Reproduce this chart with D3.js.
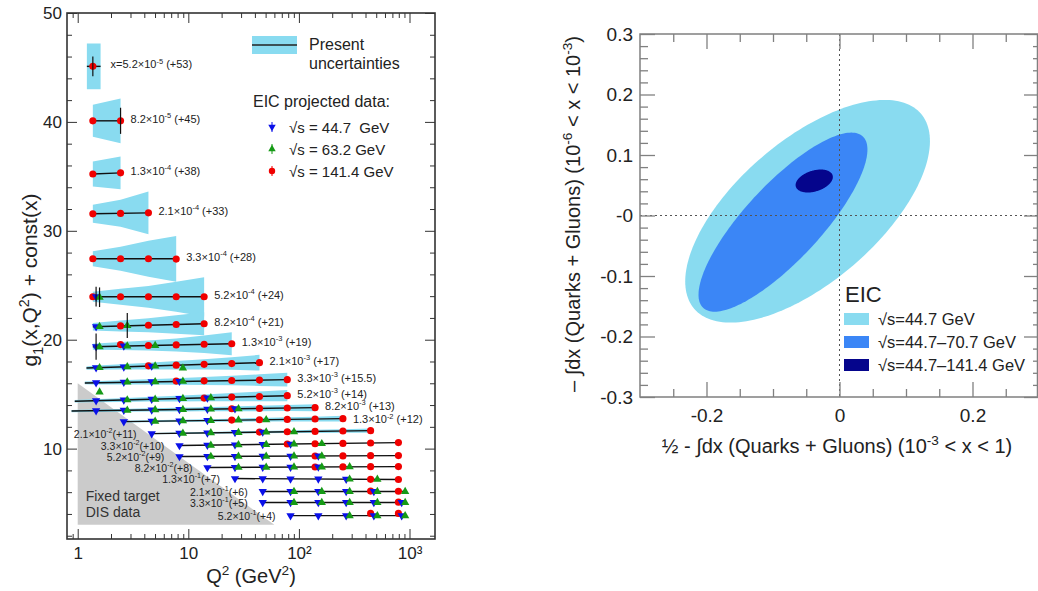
<!DOCTYPE html>
<html>
<head>
<meta charset="utf-8">
<script src="https://cdn.jsdelivr.net/npm/d3@7"></script>
<style>
  body { margin: 0; background: #fff; }
  svg { display: block; font-family: "Liberation Sans", Arial, sans-serif; }
</style>
</head>
<body>
<script>
'use strict';

// ---- left panel data: g1 per x bin ----
var xMant = ["5.2","8.2","1.3","2.1","3.3","5.2","8.2","1.3","2.1","3.3","5.2","8.2","1.3","2.1","3.3","5.2","8.2","1.3","2.1","3.3","5.2"];
var xExp = ["-5","-5","-4","-4","-4","-4","-4","-3","-3","-3","-3","-3","-2","-2","-2","-2","-2","-1","-1","-1","-1"];
var xShift = ["53","45","38","33","28","24","21","19","17","15.5","14","13","12","11","10","9","8","7","6","5","4"];

var q2Grid = [1.37, 2.44, 4.36, 7.77, 13.9, 24.7, 44.0, 78.5, 140, 250, 445, 794];

// present fit: Q2 range and g1+const at both ends
var curveQ2 = [[1.21,1.61],[1.37,2.44],[1.37,2.44],[1.37,4.36],[1.37,7.77],[1.37,13.9],[1.37,13.9],
  [1.37,24.7],[1.2,44.0],[1.16,78.5],[0.94,78.5],[0.88,140],[2.61,250],[4.66,445],
  [8.3,794],[8.3,794],[14.9,794],[26.4,794],[47,913],[47,913],[84,913]];
var curveG1 = [[45.1,45.1],[40.1,40.1],[35.22,35.32],[31.56,31.65],[27.43,27.43],[23.94,23.94],[21.19,21.47],
  [19.36,19.63],[17.4,17.89],[16.03,16.33],[14.35,14.86],[13.45,13.76],[12.48,12.75],[11.38,11.65],
  [10.28,10.55],[9.27,9.36],[8.26,8.35],[7.25,7.16],[6.06,6.06],[5.05,5.05],[3.85,3.85]];

// present uncertainty half widths (curve start, grid points inside, curve end)
var bandHW = [
  [2.1,2.1,2.1],
  [1.47,2.06],
  [1.15,1.5],
  [0.83,1.24,1.97],
  [0.69,1.1,1.65,2.1],
  [0.46,0.73,1.0,1.38,1.8],
  [0.35,0.5,0.65,0.85,1.05],
  [0.28,0.37,0.46,0.6,0.8,1.05],
  [0.15,0.18,0.24,0.3,0.38,0.47,0.58,0.72],
  [0.13,0.15,0.19,0.24,0.3,0.36,0.44,0.53,0.63],
  [0.12,0.14,0.17,0.21,0.26,0.31,0.37,0.44,0.52],
  [0.1,0.11,0.13,0.15,0.17,0.19,0.22,0.25,0.28,0.32],
  [0.08,0.09,0.1,0.12,0.14,0.16,0.19,0.22,0.26],
  [0.06,0.07,0.08,0.09,0.1,0.12,0.14,0.16,0.19],
  [],[],[],[],[],[],[]
];

// EIC projected points: [first grid index, values]
var red141 = [
  [0,[45.1]],[0,[40.1,40.1]],[0,[35.22,35.32]],[0,[31.56,31.6,31.65]],[0,[27.43,27.43,27.43,27.4]],
  [0,[23.94,23.94,23.94,23.94,23.94]],[1,[21.27,21.33,21.4,21.47]],[1,[19.55,19.47,19.52,19.58,19.63]],
  [2,[17.6,17.66,17.74,17.81,17.89]],[3,[16.2,16.22,16.25,16.29,16.33]],[4,[14.64,14.73,14.79,14.86]],
  [5,[13.66,13.69,13.73,13.76]],[5,[12.62,12.65,12.68,12.72,12.75]],[6,[11.52,11.55,11.58,11.62,11.65]],
  [7,[10.42,10.45,10.48,10.52,10.55]],[8,[9.32,9.33,9.35,9.36]],[8,[8.31,8.32,8.34,8.35]],
  [10,[7.18,7.16]],[10,[6.1,6.08]],[11,[5.08]],[10,[4.05,4.05]]
];
var blue45 = [
  [0,[]],[0,[]],[0,[]],[0,[]],[0,[]],
  [0,[23.96]],[0,[21.19]],[0,[19.36,19.42]],[0,[17.43,17.51,17.58]],[0,[16.06,16.1,16.14,16.18]],
  [0,[14.4,14.47,14.53,14.6,14.66]],[0,[13.49,13.52,13.56,13.59,13.63,13.66]],[1,[12.48,12.51,12.55,12.58]],
  [2,[11.38,11.41,11.45,11.48,11.52]],[3,[10.28,10.31,10.35,10.38,10.42]],[3,[9.27,9.28,9.29,9.3,9.31,9.32]],
  [4,[8.26,8.27,8.29,8.3,8.31]],[5,[7.25,7.24,7.22,7.21,7.19]],[6,[6.06,6.06,6.06,6.06,6.06]],
  [6,[5.05,5.05,5.05,5.05,5.05,5.05]],[7,[3.85,3.85,3.85,3.85,3.85]]
];
var green63 = [
  [0,[]],[0,[]],[0,[]],[0,[]],[0,[]],
  [0,[23.9]],[0,[21.2,21.3]],[0,[19.35,19.42,19.47]],[0,[17.43,17.51,17.58,17.4]],[1,[16.1,16.14,16.18]],
  [0,[15.2,14.47,14.53,14.6,14.66]],[1,[13.52,13.56,13.59,13.63,13.66]],[2,[12.51,12.55,12.58,12.62,12.65]],
  [3,[11.41,11.45,11.48,11.52,11.55]],[4,[10.31,10.35,10.38,10.42,10.45]],[4,[9.28,9.29,9.3,9.31,9.32]],
  [5,[8.27,8.29,8.3,8.31,8.32]],[9,[7.19,7.18]],[7,[6.06,6.06,6.06,6.06,6.06]],
  [7,[5.05,5.05,5.05,5.05,5.05]],[9,[3.83,3.83,3.83]]
];
// visible error bars: [series, x bin, grid index, error]
var errBars = [["r",0,0,0.9],["r",1,1,1.2],["b",5,0,0.9],["g",5,0,0.9],["g",6,1,1.15],["b",7,0,1.2]];

var fixedQ2 = [1, 1, 60];
var fixedG1 = [16, 3, 3];

var energyLabels = ["\u221As = 44.7  GeV", "\u221As = 63.2 GeV", "\u221As = 141.4 GeV"];

// ---- right panel data: ellipses ----
var ellLabels = ["\u221As=44.7 GeV", "\u221As=44.7\u201370.7 GeV", "\u221As=44.7\u2013141.4 GeV"];
var ellCx = [-0.048, -0.085, -0.038];
var ellCy = [0.007, -0.011, 0.057];
var ellSx = [0.184, 0.127, 0.028];
var ellSy = [0.184, 0.148, 0.019];
var ellRho = [0.63, 0.81, 0.35];
var ellColors = ["#89dbf0", "#3b86f6", "#05058c"];

(function() {

  var width = 1038, height = 591;
  var bandColor = "#89dbf0";
  var ink = "#222";

  var svg = d3.select("body").append("svg")
      .attr("width", width)
      .attr("height", height);

  function rich(sel, parts, fs) {
    var shift = 0;
    parts.forEach(function(p) {
      var s = p[1] === "sup" ? -0.4 * fs : (p[1] === "sub" ? 0.28 * fs : 0);
      sel.append("tspan")
         .attr("dy", s - shift)
         .attr("font-size", p[1] ? fs * 0.68 : fs)
         .text(p[0]);
      shift = s;
    });
  }

  // ================= left panel =================
  var xL = d3.scaleLog().domain([0.8, 1700]).range([67, 435]);
  var yL = d3.scaleLinear().domain([1.7, 50]).range([539, 13]);
  var left = svg.append("g");

  // fixed target region
  left.append("path")
      .attr("d", d3.line()(fixedQ2.map(function(q, i) { return [xL(q), yL(fixedG1[i])]; })) + "Z")
      .attr("fill", "#cbcbcb");
  ["Fixed target", "DIS data"].forEach(function(t, i) {
    left.append("text")
        .attr("x", xL(1) + 8).attr("y", yL(fixedG1[1]) - 24 + i * 16)
        .attr("font-size", 14).attr("fill", "#333").text(t);
  });

  // present uncertainty bands
  curveQ2.forEach(function(r, i) {
    var hw = bandHW[i];
    if (!hw.length) return;
    var lo = r[0], hi = r[1];
    var nodes = [lo].concat(q2Grid.filter(function(q) { return q > lo * 1.01 && q < hi / 1.01; })).concat([hi]);
    var c = d3.scaleLog().domain([lo, hi]).range(curveG1[i]);
    var pts = nodes.map(function(q, j) { return { q: q, c: c(q), h: hw[j] }; });
    left.append("path").datum(pts)
        .attr("fill", bandColor)
        .attr("d", d3.area()
          .x(function(d) { return xL(d.q); })
          .y0(function(d) { return yL(d.c - d.h); })
          .y1(function(d) { return yL(d.c + d.h); }));
  });

  // central curves
  curveQ2.forEach(function(r, i) {
    left.append("path")
        .attr("d", d3.line()([[xL(r[0]), yL(curveG1[i][0])], [xL(r[1]), yL(curveG1[i][1])]]))
        .attr("stroke", "#111").attr("stroke-width", 1.4).attr("fill", "none");
  });

  // projected points
  var series = [
    { key: "r", rows: red141, f: 1.0, color: "#f00000", sym: d3.symbolCircle, size: 40, rot: 0 },
    { key: "b", rows: blue45, f: 1.07, color: "#0a10e8", sym: d3.symbolTriangle, size: 30, rot: 180 },
    { key: "g", rows: green63, f: 1.15, color: "#169a16", sym: d3.symbolTriangle, size: 30, rot: 0 }
  ];
  var pos = {};
  series.forEach(function(s) {
    var pts = [];
    s.rows.forEach(function(r, i) {
      r[1].forEach(function(v, j) {
        var q = q2Grid[r[0] + j] * s.f;
        pts.push({ q: q, v: v });
        pos[s.key + "," + i + "," + (r[0] + j)] = { q: q, v: v };
      });
    });
    left.selectAll(null).data(pts).enter().append("path")
        .attr("d", d3.symbol().type(s.sym).size(s.size))
        .attr("transform", function(d) { return "translate(" + xL(d.q) + "," + yL(d.v) + ") rotate(" + s.rot + ")"; })
        .attr("fill", s.color);
  });

  errBars.forEach(function(e) {
    var p = pos[e[0] + "," + e[1] + "," + e[2]];
    left.append("line")
        .attr("x1", xL(p.q)).attr("x2", xL(p.q))
        .attr("y1", yL(p.v - e[3])).attr("y2", yL(p.v + e[3]))
        .attr("stroke", "#111").attr("stroke-width", 1.2);
  });

  // x bin labels
  curveQ2.forEach(function(r, i) {
    var onRight = i < 13;
    var t = left.append("text").attr("fill", ink);
    if (onRight) {
      t.attr("x", xL(r[1]) + 10).attr("y", yL(curveG1[i][1]) + (i === 12 ? 4.5 : 2));
    } else {
      t.attr("x", xL(r[0]) - 15).attr("y", yL(curveG1[i][0]) + 4).attr("text-anchor", "end");
    }
    var fs = onRight ? 11 : 10.5;
    rich(t, [[(i === 0 ? "x=" : "") + xMant[i] + "\u00D710", null], [xExp[i], "sup"],
             [(onRight ? " " : "") + "(+" + xShift[i] + ")", null]], fs);
  });

  // axes (ticks inward)
  var xMajor = [1, 10, 100, 1000];
  var xMinor = [0.9];
  [1, 10, 100].forEach(function(d) { for (var m = 2; m <= 9; m++) xMinor.push(m * d); });
  var yMajor = [10, 20, 30, 40, 50];
  var yMinor = d3.range(2, 50, 2).filter(function(v) { return v % 10 !== 0; });
  var supFmt = { 1: "1", 10: "10", 100: "10\u00B2", 1000: "10\u00B3" };

  function styleAxis(g) {
    g.select(".domain").remove();
    g.selectAll("line").attr("stroke", "#333");
    g.selectAll("text").attr("fill", ink).attr("font-family", "Liberation Sans, Arial, sans-serif");
  }

  left.append("g").attr("transform", "translate(0,539)")
      .call(d3.axisBottom(xL).tickValues(xMajor).tickSize(-10).tickPadding(8)
        .tickFormat(function(d) { return supFmt[d]; }))
      .attr("font-size", 17).call(styleAxis);
  left.append("g").attr("transform", "translate(0,539)")
      .call(d3.axisBottom(xL).tickValues(xMinor).tickSize(-5).tickFormat("")).call(styleAxis);
  left.append("g").attr("transform", "translate(0,13)")
      .call(d3.axisTop(xL).tickValues(xMajor).tickSize(-10).tickFormat("")).call(styleAxis);
  left.append("g").attr("transform", "translate(0,13)")
      .call(d3.axisTop(xL).tickValues(xMinor).tickSize(-5).tickFormat("")).call(styleAxis);
  left.append("g").attr("transform", "translate(67,0)")
      .call(d3.axisLeft(yL).tickValues(yMajor).tickSize(-10).tickPadding(5).tickFormat(d3.format("d")))
      .attr("font-size", 17).call(styleAxis);
  left.append("g").attr("transform", "translate(67,0)")
      .call(d3.axisLeft(yL).tickValues(yMinor).tickSize(-5).tickFormat("")).call(styleAxis);
  left.append("g").attr("transform", "translate(435,0)")
      .call(d3.axisRight(yL).tickValues(yMajor).tickSize(-10).tickFormat("")).call(styleAxis);
  left.append("g").attr("transform", "translate(435,0)")
      .call(d3.axisRight(yL).tickValues(yMinor).tickSize(-5).tickFormat("")).call(styleAxis);

  left.append("rect")
      .attr("x", 67).attr("y", 13).attr("width", 368).attr("height", 526)
      .attr("fill", "none").attr("stroke", "#333").attr("stroke-width", 1.6);

  // axis titles
  rich(left.append("text").attr("x", 251).attr("y", 583).attr("text-anchor", "middle").attr("fill", ink),
       [["Q", null], ["2", "sup"], [" (GeV", null], ["2", "sup"], [")", null]], 20);
  rich(left.append("text").attr("transform", "translate(37,280) rotate(-90)").attr("text-anchor", "middle").attr("fill", ink),
       [["g", null], ["1", "sub"], ["(x,Q", null], ["2", "sup"], [") + const(x)", null]], 21);

  // legend
  left.append("rect").attr("x", 252).attr("y", 36).attr("width", 45).attr("height", 18).attr("fill", bandColor);
  left.append("line").attr("x1", 252).attr("x2", 297).attr("y1", 45).attr("y2", 45)
      .attr("stroke", "#222").attr("stroke-width", 1.5);
  left.append("text").attr("x", 309).attr("y", 50).attr("font-size", 16).attr("fill", ink).text("Present");
  left.append("text").attr("x", 309).attr("y", 69).attr("font-size", 16).attr("fill", ink).text("uncertainties");
  left.append("text").attr("x", 253).attr("y", 107).attr("font-size", 16).attr("fill", ink).text("EIC projected data:");
  var legOrder = [series[1], series[2], series[0]];
  legOrder.forEach(function(s, i) {
    var cy = 127 + i * 22;
    left.append("line").attr("x1", 272).attr("x2", 272).attr("y1", cy - 5).attr("y2", cy + 5)
        .attr("stroke", s.color).attr("stroke-width", 1);
    left.append("path")
        .attr("d", d3.symbol().type(s.sym).size(s.size * 0.8))
        .attr("transform", "translate(272," + cy + ") rotate(" + s.rot + ")")
        .attr("fill", s.color);
    left.append("text").attr("x", 289).attr("y", cy + 6).attr("font-size", 15)
        .attr("fill", ink).style("white-space", "pre").text(energyLabels[i]);
  });

  // ================= right panel =================
  var xR = d3.scaleLinear().domain([-0.3, 0.3]).range([640, 1039]);
  var yR = d3.scaleLinear().domain([-0.3, 0.3]).range([397, 34]);
  var right = svg.append("g");

  ellCx.forEach(function(cx, i) {
    var phi = Math.acos(ellRho[i]);
    var pts = d3.range(0, 360, 2).map(function(a) {
      var t = a * Math.PI / 180;
      return [xR(cx + ellSx[i] * Math.cos(t)), yR(ellCy[i] + ellSy[i] * Math.cos(t - phi))];
    });
    right.append("path").attr("d", d3.line()(pts) + "Z").attr("fill", ellColors[i]);
  });

  right.append("line").attr("x1", xR(0)).attr("x2", xR(0)).attr("y1", yR(0.3)).attr("y2", yR(-0.3))
      .attr("stroke", "#555").attr("stroke-dasharray", "2,3");
  right.append("line").attr("x1", xR(-0.3)).attr("x2", xR(0.3)).attr("y1", yR(0)).attr("y2", yR(0))
      .attr("stroke", "#555").attr("stroke-dasharray", "2,3");

  var rxMajor = [-0.2, 0, 0.2];
  var rxMinor = [-0.25, -0.15, -0.1, -0.05, 0.05, 0.1, 0.15, 0.25];
  var ryMajor = d3.range(-3, 4).map(function(i) { return i / 10; });
  var ryMinor = d3.range(-15, 16).filter(function(i) { return i % 5 !== 0; }).map(function(i) { return i / 50; });
  function fmtR(zeroText) {
    return function(v) {
      if (Math.abs(v) < 1e-9) return zeroText;
      return (v < 0 ? "-" : "") + Math.abs(v).toFixed(1);
    };
  }
  function styleR(g) {
    g.select(".domain").remove();
    g.selectAll("line").attr("stroke", "#808080").attr("stroke-width", 1.3);
    g.selectAll("text").attr("fill", ink).attr("font-family", "Liberation Sans, Arial, sans-serif");
  }

  right.append("g").attr("transform", "translate(0,397)")
      .call(d3.axisBottom(xR).tickValues(rxMajor).tickSize(-15).tickPadding(12).tickFormat(fmtR("0")))
      .attr("font-size", 19).call(styleR);
  right.append("g").attr("transform", "translate(0,397)")
      .call(d3.axisBottom(xR).tickValues(rxMinor).tickSize(-8).tickFormat("")).call(styleR);
  right.append("g").attr("transform", "translate(0,34)")
      .call(d3.axisTop(xR).tickValues(rxMajor).tickSize(-15).tickFormat("")).call(styleR);
  right.append("g").attr("transform", "translate(0,34)")
      .call(d3.axisTop(xR).tickValues(rxMinor).tickSize(-8).tickFormat("")).call(styleR);
  right.append("g").attr("transform", "translate(640,0)")
      .call(d3.axisLeft(yR).tickValues(ryMajor).tickSize(-15).tickPadding(7).tickFormat(fmtR("-0")))
      .attr("font-size", 19).call(styleR);
  right.append("g").attr("transform", "translate(640,0)")
      .call(d3.axisLeft(yR).tickValues(ryMinor).tickSize(-8).tickFormat("")).call(styleR);
  right.append("g").attr("transform", "translate(1038,0)")
      .call(d3.axisRight(yR).tickValues(ryMajor).tickSize(-14).tickFormat("")).call(styleR);
  right.append("g").attr("transform", "translate(1038,0)")
      .call(d3.axisRight(yR).tickValues(ryMinor).tickSize(-5).tickFormat("")).call(styleR);

  right.append("path")
      .attr("d", "M1039,34H640V397H1039")
      .attr("fill", "none").attr("stroke", "#808080").attr("stroke-width", 1.5);
  right.append("line").attr("x1", 1037.5).attr("x2", 1037.5).attr("y1", 34).attr("y2", 397)
      .attr("stroke", "#808080").attr("stroke-width", 1.5);

  rich(right.append("text").attr("x", 837).attr("y", 453).attr("text-anchor", "middle").attr("fill", ink),
       [["\u00BD - \u222Bdx (Quarks + Gluons) (10", null], ["-3", "sup"], [" < x < 1)", null]], 20);
  rich(right.append("text").attr("transform", "translate(580,214) rotate(-90)").attr("text-anchor", "middle").attr("fill", ink),
       [["\u2013 \u222Bdx (Quarks + Gluons) (10", null], ["-6", "sup"], [" < x < 10", null], ["-3", "sup"], [")", null]], 20);

  // legend
  right.append("text").attr("x", 845).attr("y", 302).attr("font-size", 22).attr("fill", ink).text("EIC");
  ellLabels.forEach(function(l, i) {
    right.append("rect").attr("x", 844).attr("y", 313 + i * 23).attr("width", 25).attr("height", 12)
        .attr("fill", ellColors[i]);
    right.append("text").attr("x", 878).attr("y", 325 + i * 23).attr("font-size", 16.5)
        .attr("fill", ink).text(l);
  });

})();
</script>
</body>
</html>
